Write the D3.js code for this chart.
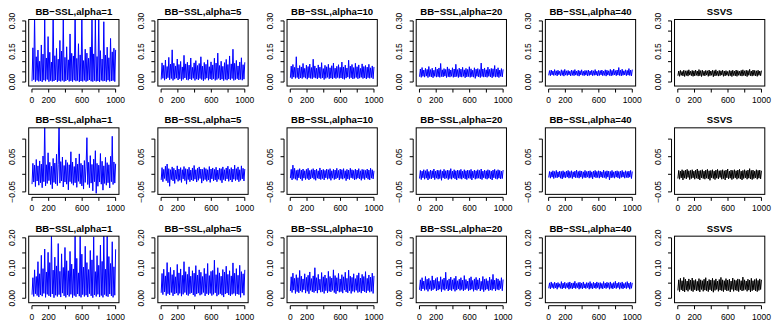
<!DOCTYPE html>
<html lang="en">
<head>
<meta charset="UTF-8">
<title>BB-SSL vs SSVS trace plots</title>
<style>
  body { margin: 0; background: #fff; }
  svg { display: block; font-family: "Liberation Sans", Arial, sans-serif; }
</style>
</head>
<body>
<svg id="chart" width="775" height="325"></svg>
<script src="https://d3js.org/d3.v7.min.js"></script>
<script>
// panel titles (columns)
const titles = ["BB\u2212SSL,alpha=1", "BB\u2212SSL,alpha=5", "BB\u2212SSL,alpha=10",
                "BB\u2212SSL,alpha=20", "BB\u2212SSL,alpha=40", "SSVS"];

// x axis ticks / labels (iterations)
const xTicks = [0, 200, 400, 600, 800, 1000];
const xLabels = [0, 200, 600, 1000];

// y axis ticks / labels per row
const yTicks = [
  [0, 0.05, 0.10, 0.15, 0.20, 0.25, 0.30],
  [-0.05, 0, 0.05, 0.10],
  [0, 0.05, 0.10, 0.15, 0.20]
];
const yLabels = [
  ["0.00", "0.15", "0.30"],
  ["\u22120.05", "0.05"],
  ["0.00", "0.10", "0.20"]
];
const yLabelVals = [[0, 0.15, 0.30], [-0.05, 0.05], [0, 0.10, 0.20]];
const yLims = [[-0.0197, 0.307], [-0.057, 0.132], [-0.0147, 0.2055]];

// ---- row 1 traces (every 10th draw) ----
const r1a1 = [0.004,0.168,0.011,0.331,0.002,0.124,0.008,0.157,0.003,0.102,
0.006,0.182,0.001,0.137,0.009,0.311,0.004,0.118,0.012,0.223,
0.002,0.146,0.007,0.098,0.003,0.341,0.005,0.129,0.010,0.165,
0.001,0.112,0.006,0.204,0.003,0.152,0.008,0.318,0.002,0.121,
0.005,0.173,0.011,0.109,0.003,0.236,0.006,0.141,0.002,0.128,
0.009,0.352,0.004,0.116,0.007,0.188,0.001,0.133,0.005,0.319,
0.003,0.105,0.008,0.161,0.002,0.142,0.006,0.117,0.010,0.172,
0.004,0.333,0.002,0.138,0.007,0.308,0.003,0.125,0.005,0.327,
0.001,0.154,0.008,0.113,0.004,0.296,0.006,0.132,0.002,0.171,
0.009,0.119,0.003,0.214,0.005,0.148,0.007,0.166,0.002,0.158];
const r1a5 = [0.012,0.094,0.018,0.082,0.009,0.108,0.015,0.076,0.021,0.121,
0.011,0.088,0.017,0.158,0.008,0.092,0.014,0.079,0.019,0.113,
0.010,0.086,0.016,0.101,0.007,0.074,0.013,0.131,0.020,0.089,
0.012,0.097,0.009,0.083,0.015,0.118,0.011,0.072,0.018,0.094,
0.008,0.105,0.014,0.081,0.010,0.091,0.017,0.124,0.012,0.078,
0.006,0.096,0.013,0.087,0.019,0.109,0.009,0.075,0.015,0.099,
0.011,0.084,0.016,0.117,0.008,0.093,0.012,0.142,0.018,0.081,
0.010,0.102,0.014,0.077,0.007,0.095,0.013,0.111,0.009,0.086,
0.015,0.128,0.011,0.089,0.017,0.161,0.008,0.092,0.012,0.106,
0.016,0.079,0.010,0.098,0.013,0.119,0.009,0.085,0.014,0.097];
const r1a10 = [0.021,0.078,0.016,0.086,0.024,0.072,0.018,0.124,0.022,0.069,
0.015,0.081,0.020,0.074,0.017,0.091,0.023,0.067,0.019,0.083,
0.014,0.076,0.021,0.088,0.018,0.071,0.016,0.112,0.022,0.079,
0.019,0.068,0.015,0.084,0.021,0.073,0.017,0.095,0.020,0.066,
0.012,0.082,0.018,0.075,0.023,0.087,0.016,0.070,0.019,0.080,
0.015,0.093,0.021,0.068,0.017,0.077,0.022,0.085,0.018,0.072,
0.020,0.098,0.016,0.074,0.013,0.083,0.019,0.069,0.024,0.107,
0.017,0.078,0.021,0.086,0.015,0.071,0.018,0.092,0.022,0.075,
0.016,0.084,0.019,0.067,0.023,0.089,0.017,0.076,0.020,0.081,
0.015,0.073,0.021,0.087,0.018,0.070,0.022,0.079,0.016,0.074];
const r1a20 = [0.026,0.064,0.023,0.071,0.028,0.059,0.024,0.067,0.029,0.062,
0.022,0.076,0.027,0.061,0.025,0.068,0.021,0.058,0.028,0.073,
0.024,0.063,0.026,0.069,0.023,0.091,0.027,0.060,0.025,0.066,
0.029,0.062,0.022,0.074,0.026,0.065,0.024,0.059,0.028,0.070,
0.023,0.064,0.025,0.087,0.027,0.061,0.022,0.068,0.026,0.063,
0.024,0.072,0.028,0.060,0.021,0.067,0.025,0.062,0.027,0.075,
0.023,0.065,0.026,0.058,0.024,0.070,0.018,0.063,0.028,0.066,
0.025,0.061,0.022,0.093,0.027,0.064,0.024,0.069,0.026,0.060,
0.023,0.073,0.028,0.062,0.025,0.067,0.021,0.065,0.027,0.081,
0.024,0.063,0.026,0.070,0.022,0.059,0.028,0.066,0.025,0.062];
const r1a40 = [0.033,0.056,0.031,0.059,0.035,0.054,0.032,0.061,0.034,0.055,
0.030,0.058,0.036,0.053,0.031,0.060,0.033,0.056,0.029,0.062,
0.034,0.055,0.032,0.057,0.035,0.053,0.030,0.059,0.033,0.056,
0.031,0.061,0.034,0.054,0.032,0.058,0.029,0.055,0.035,0.060,
0.033,0.053,0.031,0.057,0.034,0.056,0.030,0.059,0.032,0.054,
0.035,0.058,0.031,0.055,0.033,0.061,0.034,0.053,0.030,0.057,
0.032,0.056,0.035,0.059,0.031,0.054,0.033,0.060,0.029,0.058,
0.034,0.055,0.032,0.062,0.030,0.057,0.033,0.064,0.035,0.056,
0.031,0.059,0.034,0.071,0.032,0.058,0.030,0.063,0.033,0.055,
0.035,0.060,0.031,0.057,0.034,0.066,0.032,0.059,0.030,0.061];
const r1ssvs = [0.031,0.054,0.028,0.057,0.033,0.052,0.030,0.058,0.027,0.055,
0.032,0.056,0.029,0.060,0.034,0.053,0.031,0.057,0.028,0.055,
0.030,0.059,0.033,0.054,0.029,0.061,0.031,0.056,0.027,0.058,
0.032,0.053,0.030,0.057,0.034,0.055,0.028,0.059,0.031,0.054,
0.033,0.058,0.026,0.056,0.030,0.060,0.032,0.053,0.029,0.057,
0.031,0.055,0.034,0.058,0.028,0.054,0.030,0.056,0.033,0.052,
0.029,0.057,0.031,0.055,0.027,0.058,0.032,0.054,0.030,0.059,
0.028,0.056,0.033,0.053,0.031,0.057,0.029,0.060,0.032,0.055,
0.030,0.058,0.027,0.056,0.033,0.062,0.031,0.054,0.029,0.059,
0.032,0.057,0.030,0.055,0.028,0.058,0.033,0.054,0.031,0.056];

// ---- row 2 traces ----
const r2a1 = [-0.028,0.031,-0.022,0.026,-0.035,0.042,-0.019,0.024,-0.031,0.038,
-0.024,0.029,-0.038,0.052,-0.021,0.148,-0.033,0.027,-0.026,0.061,
-0.018,0.034,-0.029,0.023,-0.041,0.045,-0.023,0.032,-0.027,0.057,
-0.032,0.028,0.151,-0.025,0.036,-0.019,0.049,-0.036,0.025,-0.022,
0.041,-0.028,0.033,-0.044,0.027,-0.021,0.064,-0.026,0.035,-0.031,
0.022,-0.024,0.046,-0.037,0.029,-0.020,0.058,-0.027,0.031,-0.033,
0.026,-0.042,0.039,-0.023,0.021,0.104,-0.029,0.034,-0.038,0.053,
-0.025,0.028,-0.047,0.043,-0.021,0.067,-0.054,0.031,-0.034,0.026,
-0.022,0.059,-0.028,0.037,-0.045,0.024,-0.026,0.048,-0.031,0.033,
-0.024,0.027,-0.039,0.051,-0.021,0.108,-0.029,0.035,-0.025,0.030];
const r2a5 = [-0.016,0.019,-0.021,0.014,-0.012,0.023,-0.018,0.029,-0.024,0.016,
-0.034,0.013,-0.015,0.021,-0.019,0.017,-0.026,0.012,-0.014,0.024,
-0.020,0.015,-0.017,0.019,-0.023,0.013,-0.013,0.022,-0.018,0.016,
-0.028,0.014,-0.015,0.020,-0.021,0.012,-0.016,0.018,-0.019,0.025,
-0.014,0.013,-0.022,0.017,-0.017,0.021,-0.012,0.015,-0.025,0.014,
-0.018,0.019,-0.015,0.016,-0.020,0.013,-0.016,0.022,-0.023,0.015,
-0.013,0.018,-0.019,0.014,-0.016,0.020,-0.021,0.012,-0.014,0.017,
-0.017,0.016,-0.024,0.021,-0.015,0.013,-0.019,0.018,-0.013,0.023,
-0.020,0.014,-0.016,0.019,-0.022,0.015,-0.014,0.026,-0.018,0.016,
-0.015,0.021,-0.021,0.013,-0.017,0.024,-0.013,0.017,-0.019,0.015];
const r2a10 = [-0.011,0.014,-0.016,0.026,-0.012,0.017,-0.014,0.011,-0.017,0.013,
-0.010,0.016,-0.013,0.012,-0.018,0.015,-0.011,0.010,-0.015,0.014,
-0.012,0.017,-0.016,0.011,-0.013,0.013,-0.010,0.016,-0.014,0.012,
-0.017,0.015,-0.011,0.010,-0.013,0.018,-0.015,0.012,-0.012,0.014,
-0.016,0.011,-0.010,0.015,-0.014,0.013,-0.012,0.016,-0.017,0.010,
-0.011,0.014,-0.015,0.012,-0.013,0.017,-0.010,0.011,-0.016,0.015,
-0.012,0.013,-0.014,0.016,-0.011,0.010,-0.018,0.014,-0.013,0.012,
-0.015,0.017,-0.010,0.013,-0.012,0.011,-0.016,0.015,-0.014,0.012,
-0.011,0.016,-0.013,0.010,-0.017,0.014,-0.012,0.013,-0.015,0.011,
-0.010,0.015,-0.014,0.012,-0.016,0.017,-0.011,0.013,-0.013,0.010];
const r2a20 = [-0.012,0.011,-0.015,0.009,-0.010,0.013,-0.014,0.010,-0.011,0.014,
-0.016,0.008,-0.012,0.012,-0.013,0.010,-0.010,0.015,-0.015,0.009,
-0.011,0.012,-0.014,0.011,-0.012,0.013,-0.017,0.009,-0.010,0.014,
-0.013,0.010,-0.011,0.012,-0.015,0.011,-0.012,0.016,-0.014,0.009,
-0.010,0.013,-0.013,0.010,-0.016,0.012,-0.011,0.011,-0.012,0.014,
-0.014,0.009,-0.010,0.013,-0.013,0.010,-0.015,0.012,-0.011,0.011,
-0.012,0.014,-0.016,0.009,-0.010,0.012,-0.014,0.010,-0.012,0.013,
-0.011,0.011,-0.013,0.015,-0.015,0.009,-0.010,0.012,-0.012,0.010,
-0.014,0.013,-0.011,0.011,-0.013,0.009,-0.016,0.012,-0.010,0.014,
-0.012,0.010,-0.014,0.013,-0.011,0.011,-0.013,0.009,-0.012,0.012];
const r2a40 = [-0.009,0.008,-0.011,0.007,-0.008,0.010,-0.012,0.008,-0.009,0.011,
-0.010,0.007,-0.008,0.009,-0.011,0.008,-0.013,0.010,-0.009,0.007,
-0.010,0.009,-0.008,0.011,-0.011,0.008,-0.009,0.010,-0.012,0.007,
-0.008,0.009,-0.010,0.012,-0.009,0.008,-0.011,0.010,-0.008,0.009,
-0.012,0.007,-0.009,0.011,-0.010,0.008,-0.008,0.009,-0.011,0.010,
-0.009,0.007,-0.013,0.009,-0.008,0.011,-0.010,0.008,-0.009,0.010,
-0.011,0.009,-0.008,0.007,-0.010,0.012,-0.009,0.008,-0.012,0.010,
-0.008,0.009,-0.016,0.008,-0.010,0.011,-0.009,0.007,-0.011,0.009,
-0.008,0.010,-0.010,0.008,-0.012,0.009,-0.009,0.011,-0.008,0.007,
-0.011,0.010,-0.009,0.008,-0.010,0.009,-0.008,0.011,-0.012,0.008];
const r2ssvs = [-0.012,0.011,-0.014,0.009,-0.010,0.013,-0.016,0.010,-0.011,0.012,
-0.013,0.014,-0.009,0.010,-0.015,0.011,-0.012,0.013,-0.010,0.009,
-0.014,0.012,-0.011,0.015,-0.013,0.010,-0.016,0.011,-0.010,0.013,
-0.012,0.009,-0.014,0.012,-0.011,0.014,-0.013,0.010,-0.017,0.011,
-0.010,0.013,-0.012,0.009,-0.015,0.012,-0.011,0.014,-0.013,0.010,
-0.009,0.011,-0.014,0.013,-0.012,0.010,-0.016,0.012,-0.010,0.015,
-0.013,0.009,-0.011,0.012,-0.015,0.011,-0.012,0.013,-0.010,0.010,
-0.014,0.012,-0.011,0.014,-0.013,0.009,-0.016,0.011,-0.012,0.013,
-0.010,0.010,-0.014,0.012,-0.011,0.016,-0.013,0.011,-0.015,0.012,
-0.012,0.009,-0.010,0.013,-0.014,0.011,-0.011,0.012,-0.013,0.010];

// ---- row 3 traces ----
const r3a1 = [0.012,0.068,0.006,0.094,0.015,0.072,0.009,0.121,0.004,0.081,
0.011,0.142,0.007,0.098,0.016,0.163,0.003,0.087,0.013,0.152,
0.008,0.118,0.005,0.212,0.014,0.093,0.002,0.136,0.010,0.107,
0.006,0.181,0.012,0.089,0.004,0.147,0.017,0.102,0.008,0.168,
0.003,0.124,0.011,0.091,0.006,0.155,0.013,0.113,0.002,0.097,
0.009,0.211,0.005,0.132,0.014,0.084,0.007,0.209,0.003,0.146,
0.012,0.103,0.006,0.172,0.010,0.118,0.004,0.095,0.015,0.158,
0.008,0.127,0.002,0.203,0.011,0.088,0.006,0.141,0.013,0.109,
0.004,0.176,0.009,0.122,0.003,0.213,0.012,0.096,0.007,0.208,
0.005,0.138,0.014,0.115,0.008,0.187,0.003,0.104,0.010,0.162];
const r3a5 = [0.018,0.082,0.012,0.096,0.021,0.074,0.009,0.118,0.015,0.086,
0.011,0.102,0.019,0.078,0.008,0.093,0.014,0.071,0.017,0.112,
0.010,0.084,0.016,0.097,0.007,0.076,0.013,0.121,0.019,0.088,
0.012,0.079,0.009,0.104,0.015,0.073,0.018,0.091,0.011,0.083,
0.006,0.108,0.014,0.077,0.017,0.094,0.010,0.086,0.013,0.072,
0.019,0.099,0.008,0.081,0.015,0.115,0.011,0.075,0.016,0.089,
0.009,0.092,0.013,0.126,0.018,0.078,0.007,0.101,0.012,0.084,
0.015,0.073,0.010,0.095,0.004,0.087,0.014,0.106,0.017,0.079,
0.011,0.091,0.008,0.074,0.013,0.117,0.016,0.083,0.009,0.098,
0.014,0.076,0.012,0.109,0.003,0.088,0.017,0.081,0.010,0.094];
const r3a10 = [0.024,0.071,0.019,0.083,0.027,0.066,0.016,0.078,0.022,0.068,
0.018,0.092,0.025,0.073,0.020,0.064,0.028,0.081,0.017,0.069,
0.023,0.076,0.015,0.087,0.026,0.065,0.021,0.074,0.019,0.101,
0.024,0.068,0.017,0.079,0.027,0.063,0.020,0.085,0.022,0.071,
0.016,0.077,0.025,0.066,0.018,0.089,0.023,0.072,0.021,0.067,
0.026,0.094,0.019,0.075,0.015,0.068,0.024,0.082,0.020,0.064,
0.022,0.078,0.017,0.071,0.027,0.086,0.021,0.066,0.018,0.093,
0.025,0.073,0.016,0.069,0.023,0.081,0.020,0.065,0.026,0.076,
0.019,0.084,0.022,0.067,0.017,0.079,0.024,0.072,0.021,0.088,
0.018,0.066,0.025,0.077,0.020,0.070,0.023,0.083,0.016,0.074];
const r3a20 = [0.028,0.061,0.024,0.068,0.031,0.057,0.026,0.072,0.029,0.063,
0.023,0.066,0.030,0.058,0.025,0.074,0.028,0.060,0.032,0.065,
0.024,0.069,0.027,0.056,0.030,0.071,0.022,0.062,0.029,0.067,
0.026,0.086,0.031,0.059,0.024,0.064,0.028,0.070,0.025,0.061,
0.030,0.066,0.023,0.073,0.027,0.058,0.031,0.063,0.026,0.068,
0.029,0.060,0.024,0.075,0.028,0.062,0.032,0.057,0.025,0.066,
0.027,0.071,0.030,0.059,0.023,0.064,0.028,0.069,0.026,0.061,
0.031,0.067,0.024,0.056,0.029,0.072,0.022,0.063,0.027,0.065,
0.030,0.058,0.025,0.070,0.028,0.062,0.026,0.079,0.031,0.060,
0.024,0.066,0.029,0.064,0.027,0.058,0.032,0.068,0.025,0.062];
const r3a40 = [0.033,0.051,0.031,0.054,0.035,0.049,0.032,0.053,0.034,0.050,
0.030,0.052,0.036,0.048,0.033,0.055,0.031,0.050,0.034,0.053,
0.032,0.049,0.035,0.052,0.030,0.054,0.033,0.050,0.031,0.051,
0.034,0.056,0.032,0.049,0.035,0.052,0.030,0.053,0.033,0.050,
0.031,0.054,0.034,0.048,0.032,0.052,0.035,0.051,0.030,0.055,
0.033,0.049,0.031,0.053,0.034,0.050,0.032,0.054,0.035,0.051,
0.030,0.052,0.033,0.049,0.031,0.055,0.034,0.050,0.032,0.053,
0.035,0.051,0.030,0.054,0.033,0.049,0.031,0.052,0.034,0.056,
0.032,0.050,0.035,0.053,0.030,0.051,0.033,0.054,0.031,0.049,
0.034,0.052,0.032,0.055,0.035,0.050,0.030,0.053,0.033,0.051];
const r3ssvs = [0.026,0.061,0.022,0.066,0.028,0.058,0.024,0.069,0.021,0.063,
0.027,0.057,0.023,0.064,0.029,0.060,0.025,0.067,0.022,0.059,
0.028,0.062,0.024,0.056,0.026,0.065,0.021,0.061,0.029,0.058,
0.023,0.063,0.027,0.068,0.025,0.057,0.022,0.062,0.028,0.060,
0.024,0.066,0.020,0.059,0.026,0.064,0.029,0.057,0.023,0.062,
0.027,0.069,0.025,0.061,0.022,0.058,0.028,0.065,0.024,0.060,
0.026,0.063,0.021,0.057,0.029,0.067,0.023,0.061,0.027,0.059,
0.025,0.064,0.022,0.062,0.028,0.058,0.024,0.070,0.026,0.061,
0.029,0.057,0.023,0.063,0.027,0.060,0.021,0.066,0.025,0.058,
0.028,0.062,0.024,0.065,0.022,0.059,0.026,0.064,0.029,0.061];

const series = [
  [r1a1, r1a5, r1a10, r1a20, r1a40, r1ssvs],
  [r2a1, r2a5, r2a10, r2a20, r2a40, r2ssvs],
  [r3a1, r3a5, r3a10, r3a20, r3a40, r3ssvs]
];

const W = 775, H = 325;
const cellW = W / 6, cellH = H / 3;
const m = { left: 28.7, right: 10.2, top: 19.5, bottom: 22.3 };
const tick = 3.5, gap = 3;

const svg = d3.select("#chart");

series.forEach((rowSeries, r) => {
  rowSeries.forEach((vals, c) => {
    const x0 = c * cellW, y0 = r * cellH;
    const L = x0 + m.left, R = x0 + cellW - m.right;
    const T = y0 + m.top, B = y0 + cellH - m.bottom;
    const n = vals.length;
    const iter = d3.range(n).map(i => 1 + i * 999 / (n - 1));

    const x = d3.scaleLinear().domain([-39, 1040]).range([L, R]);
    const y = d3.scaleLinear().domain(yLims[r]).range([B, T]);

    const g = svg.append("g");
    const clipId = `clip-${r}-${c}`;
    g.append("clipPath").attr("id", clipId)
      .append("rect").attr("x", L).attr("y", T).attr("width", R - L).attr("height", B - T);

    // trace
    g.append("path")
      .datum(vals)
      .attr("clip-path", `url(#${clipId})`)
      .attr("fill", "none")
      .attr("stroke", c === 5 ? "#000" : "#0000ff")
      .attr("stroke-width", 1)
      .attr("d", d3.line().x((d, i) => x(iter[i])).y(d => y(d)));

    // box
    g.append("rect")
      .attr("x", L).attr("y", T).attr("width", R - L).attr("height", B - T)
      .attr("fill", "none").attr("stroke", "#000").attr("stroke-width", 1);

    // x axis
    const ax = g.append("g").attr("transform", `translate(0,${B + gap})`);
    ax.append("line")
      .attr("x1", x(xTicks[0])).attr("x2", x(xTicks[xTicks.length - 1]))
      .attr("stroke", "#000");
    ax.selectAll(".xt").data(xTicks).join("line")
      .attr("x1", d => x(d)).attr("x2", d => x(d))
      .attr("y1", 0).attr("y2", tick).attr("stroke", "#000");
    ax.selectAll(".xl").data(xLabels).join("text")
      .attr("x", d => x(d)).attr("y", 14)
      .attr("text-anchor", "middle")
      .attr("font-size", 8.5)
      .text(d => d);

    // y axis
    const yt = yTicks[r];
    const ay = g.append("g").attr("transform", `translate(${L - gap},0)`);
    ay.append("line")
      .attr("y1", y(yt[0])).attr("y2", y(yt[yt.length - 1]))
      .attr("stroke", "#000");
    ay.selectAll(".ytk").data(yt).join("line")
      .attr("y1", d => y(d)).attr("y2", d => y(d))
      .attr("x1", 0).attr("x2", -tick).attr("stroke", "#000");
    ay.selectAll(".yl").data(yLabelVals[r]).join("text")
      .attr("transform", d => `translate(-11,${y(d)}) rotate(-90)`)
      .attr("text-anchor", "middle")
      .attr("font-size", 8.5)
      .text((d, i) => yLabels[r][i]);

    // title
    g.append("text")
      .attr("x", (L + R) / 2).attr("y", y0 + 15)
      .attr("text-anchor", "middle")
      .attr("font-weight", "bold")
      .attr("font-size", 9.6)
      .text(titles[c]);
  });
});
</script>
</body>
</html>
